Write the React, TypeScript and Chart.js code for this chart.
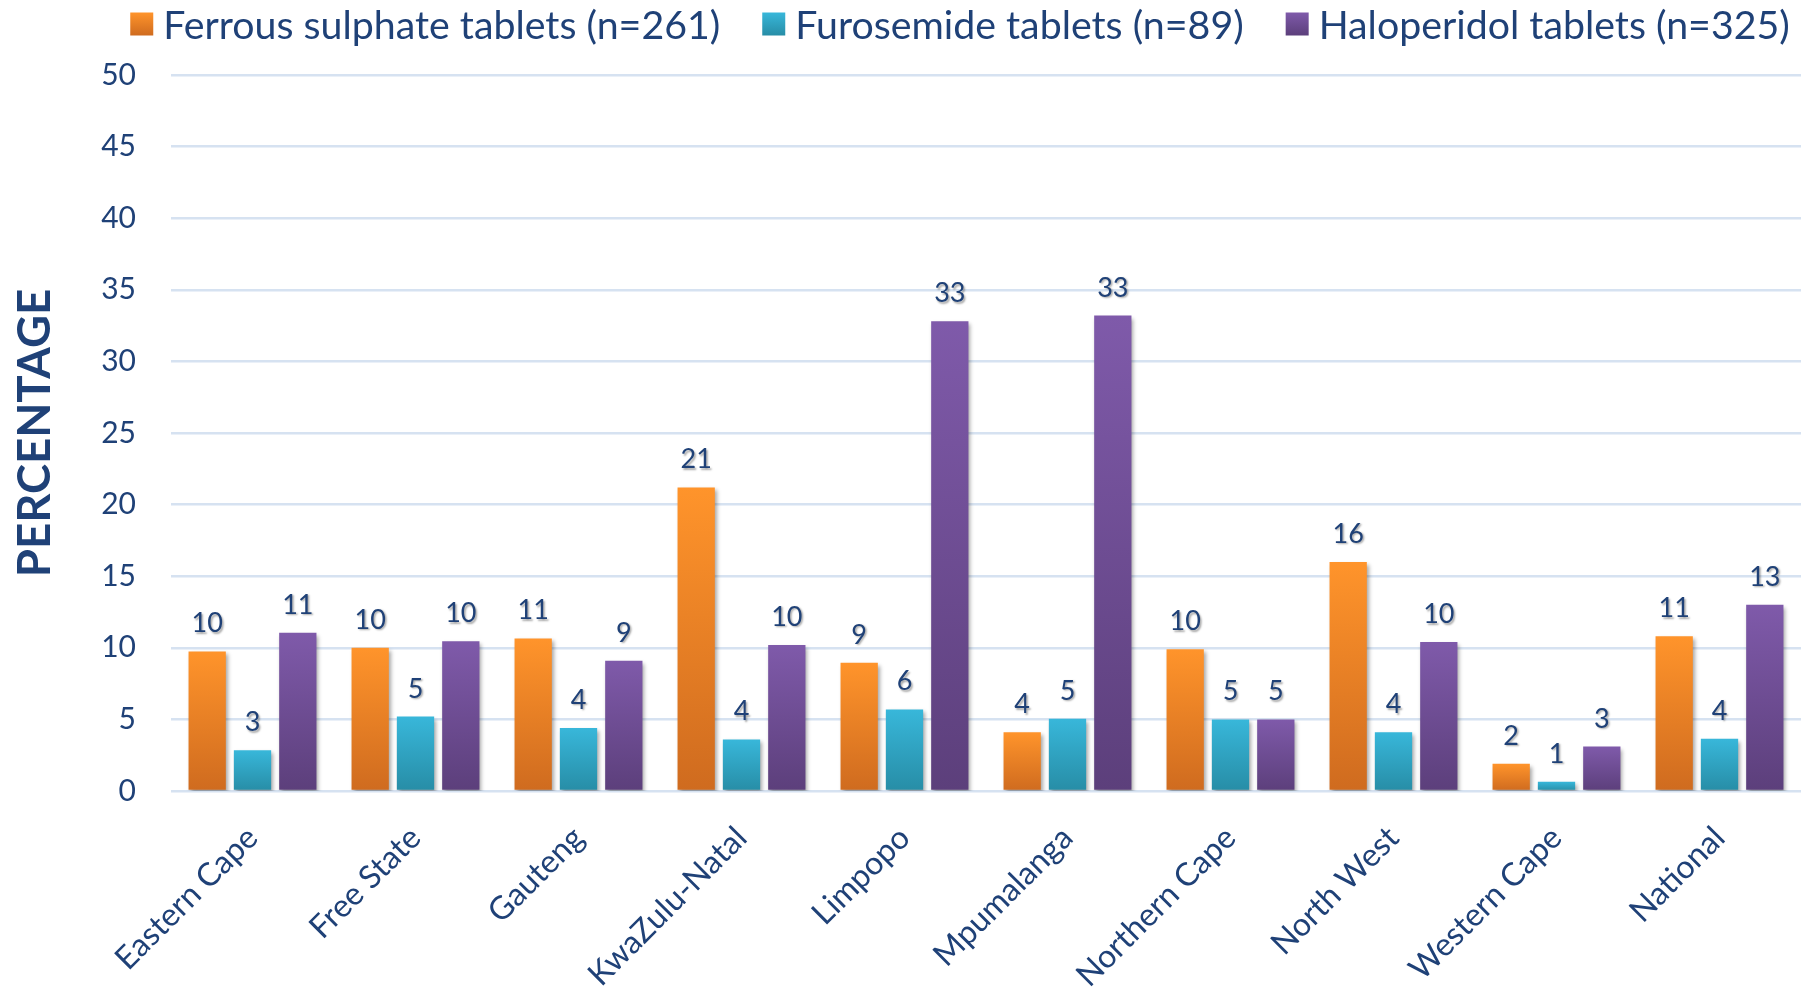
import React, { useEffect, useRef } from "react";
import { Chart, registerables } from "chart.js";

Chart.register(...registerables);

const categories = [
  "Eastern Cape",
  "Free State",
  "Gauteng",
  "KwaZulu-Natal",
  "Limpopo",
  "Mpumalanga",
  "Northern Cape",
  "North West",
  "Western Cape",
  "National",
];
const ferrousValues = [9.75, 10.0, 10.65, 21.2, 8.95, 4.1, 9.9, 16.0, 1.9, 10.8];
const furosemideValues = [2.85, 5.2, 4.4, 3.6, 5.7, 5.05, 5.0, 4.1, 0.65, 3.65];
const haloperidolValues = [11.05, 10.45, 9.1, 10.2, 32.8, 33.2, 5.0, 10.4, 3.1, 13.0];
const seriesLabels = [
  "Ferrous sulphate tablets (n=261)",
  "Furosemide tablets (n=89)",
  "Haloperidol tablets (n=325)",
];
const yAxisTitle = "PERCENTAGE";
const yMin = 0;
const yMax = 50;
const yStep = 5;

const FONT = "Lato";
const TEXT = "#1F4177";
const GRID = "#D6E2F1";
const gradients: [string, string][] = [
  ["#FF942B", "#CF6B1F"],
  ["#38B7DA", "#278DA6"],
  ["#7F5AAA", "#5C3F7B"],
];

function barFill(idx: number) {
  return (ctx: any) => {
    const chart = ctx.chart;
    const [c1, c2] = gradients[idx];
    if (!chart.chartArea || ctx.type !== "data") return c1;
    const ys = chart.scales.y;
    const top = ys.getPixelForValue(ctx.raw);
    const base = ys.getPixelForValue(0);
    if (!isFinite(top) || !isFinite(base) || Math.abs(base - top) < 0.5) return c1;
    const g = chart.ctx.createLinearGradient(0, top, 0, base);
    g.addColorStop(0, c1);
    g.addColorStop(1, c2);
    return g;
  };
}

const barShadowPlugin = {
  id: "barShadow",
  beforeDatasetsDraw(chart: any) {
    const c = chart.ctx;
    c.save();
    c.shadowColor = "rgba(0,0,0,0.35)";
    c.shadowBlur = 4;
    c.shadowOffsetX = 2;
    c.shadowOffsetY = 3;
  },
  afterDatasetsDraw(chart: any) {
    chart.ctx.restore();
  },
};

const dataLabelPlugin = {
  id: "dataLabels",
  afterDatasetsDraw(chart: any) {
    const c = chart.ctx;
    c.save();
    c.font = `27px ${FONT}`;
    c.fillStyle = TEXT;
    c.textAlign = "center";
    c.textBaseline = "alphabetic";
    c.shadowColor = "rgba(0,0,0,0.35)";
    c.shadowBlur = 2;
    c.shadowOffsetX = 1.5;
    c.shadowOffsetY = 1.5;
    chart.data.datasets.forEach((ds: any, di: number) => {
      const meta = chart.getDatasetMeta(di);
      meta.data.forEach((el: any, i: number) => {
        const v = ds.data[i];
        c.fillText(String(Math.round(v)), el.x, el.y - 19);
      });
    });
    c.restore();
  },
};

const legendPlugin = {
  id: "customLegend",
  afterDraw(chart: any) {
    const c = chart.ctx;
    c.save();
    c.font = `39.3px ${FONT}`;
    c.textBaseline = "middle";
    c.textAlign = "left";
    const box = 23;
    const gapText = 10;
    const gapItem = 42;
    const widths = seriesLabels.map((t) => c.measureText(t).width);
    const total =
      widths.reduce((a, w) => a + box + gapText + w, 0) + gapItem * (seriesLabels.length - 1);
    const center = 952;
    let x = center - total / 2;
    const yMid = 16;
    seriesLabels.forEach((t, i) => {
      const g = c.createLinearGradient(0, yMid - box / 2, 0, yMid + box / 2);
      g.addColorStop(0, gradients[i][0]);
      g.addColorStop(1, gradients[i][1]);
      c.fillStyle = g;
      c.fillRect(x, yMid - box / 2, box, box);
      x += box + gapText;
      c.fillStyle = TEXT;
      c.fillText(t, x, yMid + 2);
      x += widths[i] + gapItem;
    });
    c.restore();
  },
};

export default function App() {
  const ref = useRef<HTMLCanvasElement | null>(null);
  useEffect(() => {
    if (!ref.current) return;
    document.body.style.overflow = "hidden";
    Chart.defaults.font.family = FONT;
    const chart = new Chart(ref.current, {
      type: "bar",
      data: {
        labels: categories,
        datasets: [
          { label: seriesLabels[0], data: ferrousValues, backgroundColor: barFill(0) },
          { label: seriesLabels[1], data: furosemideValues, backgroundColor: barFill(1) },
          { label: seriesLabels[2], data: haloperidolValues, backgroundColor: barFill(2) },
        ],
      },
      options: {
        animation: false,
        responsive: true,
        maintainAspectRatio: false,
        datasets: {
          bar: { categoryPercentage: 0.834, barPercentage: 0.823 },
        } as any,
        layout: { padding: { top: 67, right: 1, left: 0, bottom: 0 } },
        plugins: {
          legend: { display: false },
          tooltip: { enabled: false },
        },
        scales: {
          x: {
            grid: { display: false, drawTicks: false },
            border: { display: false },
            ticks: {
              color: TEXT,
              font: { size: 32, family: FONT },
              minRotation: 45,
              maxRotation: 45,
              padding: 28,
              autoSkip: false,
            },
            afterFit: (s: any) => {
              s.height = 205;
            },
          },
          y: {
            min: yMin,
            max: yMax,
            grid: { color: GRID, lineWidth: 2.5, drawTicks: false },
            border: { display: false },
            ticks: {
              stepSize: yStep,
              color: TEXT,
              font: { size: 30, family: FONT },
              padding: 35,
            },
            title: {
              display: true,
              text: yAxisTitle,
              color: "#1F4177",
              font: { size: 45.5, weight: "bold", family: FONT, lineHeight: 1.2 },
              padding: { top: 0, bottom: 0 },
            },
            afterFit: (s: any) => {
              s.width = 163;
            },
          },
        },
      },
      plugins: [barShadowPlugin, dataLabelPlugin, legendPlugin],
    });
    return () => chart.destroy();
  }, []);
  return (
    <div
      style={{
        width: "calc(100vw - 16px)",
        height: "988px",
        marginBottom: "-8px",
        position: "relative",
      }}
    >
      <canvas ref={ref} />
    </div>
  );
}
